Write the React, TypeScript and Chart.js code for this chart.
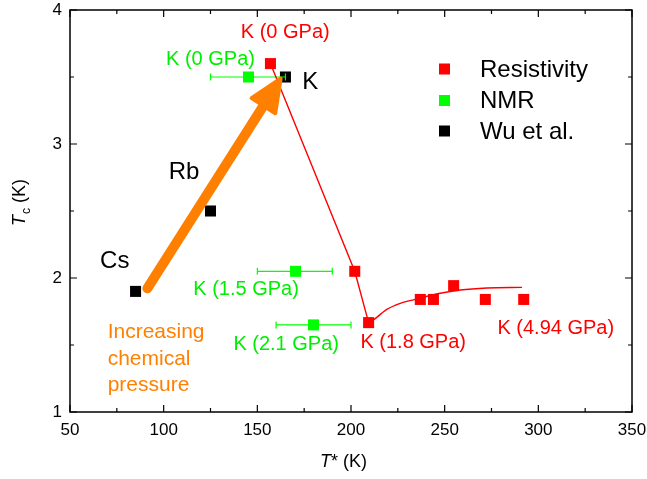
import React, { useEffect, useRef } from "react";
import { Chart, registerables } from "chart.js";

Chart.register(...registerables);

// ---- data ----
const resistivityX = [157, 202, 209.4, 237, 244, 254.8, 271.7, 292.2];
const resistivityY = [3.6, 2.05, 1.667, 1.84, 1.84, 1.943, 1.84, 1.84];

const nmrX = [145.3, 170.4, 180];
const nmrY = [3.5, 2.05, 1.65];
const nmrXLow = [125, 150, 160];
const nmrXHigh = [165, 190, 200];

const wuX = [85, 125, 165];
const wuY = [1.9, 2.5, 3.5];

const dropLineX = [157, 202, 209.4];
const dropLineY = [3.6, 2.05, 1.667];

const fitX = [209.4, 212, 219.1, 226.3, 234.3, 247.6, 258.3, 272.6, 291.3];
const fitY = [1.667, 1.687, 1.766, 1.811, 1.841, 1.886, 1.91, 1.925, 1.93];

const xTicks = [50, 100, 150, 200, 250, 300, 350];
const yTicks = [1, 2, 3, 4];

const arrowTail = [91.3, 1.923];
const arrowTip = [163, 3.5];

const legendLabels = ["Resistivity", "NMR", "Wu et al."];

// annotation texts and their anchors (data units)
const noteTexts = [
  "K (0 GPa)",
  "K (0 GPa)",
  "K",
  "Rb",
  "Cs",
  "K (1.5 GPa)",
  "K (2.1 GPa)",
  "K (1.8 GPa)",
  "K (4.94 GPa)",
];
const noteX = [164.9, 125, 178.2, 110.9, 73.9, 144, 165.4, 233.2, 309.3];
const noteY = [3.83, 3.627, 3.457, 2.786, 2.122, 1.916, 1.507, 1.517, 1.62];
const noteColors = ["#ff0000", "#00ee00", "#000000", "#000000", "#000000", "#00ee00", "#00ee00", "#ff0000", "#ff0000"];
const noteSizes = [20, 20, 24, 24, 24, 20, 20, 20, 20];

const pressureLines = ["Increasing", "chemical", "pressure"];
const pressureAnchor = [70.1, 1.595];

const RED = "#ff0000";
const GREEN = "#00ff00";
const BLACK = "#000000";
const ORANGE = "#ff8000";
const FONT = "'Liberation Sans', Arial, sans-serif";

const pts = (xs: number[], ys: number[]) => xs.map((x, i) => ({ x, y: ys[i] }));

const overlayPlugin = {
  id: "overlay",
  afterDatasetsDraw(chart: any) {
    const ctx: CanvasRenderingContext2D = chart.ctx;
    const xs = chart.scales.x;
    const ys = chart.scales.y;
    const { left, right, top, bottom } = chart.chartArea;
    ctx.save();

    // arrow
    const tx = xs.getPixelForValue(arrowTail[0]);
    const ty = ys.getPixelForValue(arrowTail[1]);
    const hx = xs.getPixelForValue(arrowTip[0]);
    const hy = ys.getPixelForValue(arrowTip[1]);
    const dx = hx - tx, dy = hy - ty;
    const len = Math.hypot(dx, dy);
    const ux = dx / len, uy = dy / len;
    const px = -uy, py = ux;
    const headLen = 34, headHalf = 14;
    const bx = hx - ux * headLen, by = hy - uy * headLen;
    ctx.strokeStyle = ORANGE;
    ctx.fillStyle = ORANGE;
    ctx.lineCap = "round";
    ctx.lineWidth = 10;
    ctx.beginPath();
    ctx.moveTo(tx, ty);
    ctx.lineTo(bx + ux * 4, by + uy * 4);
    ctx.stroke();
    ctx.lineJoin = "round";
    ctx.lineWidth = 4;
    ctx.beginPath();
    ctx.moveTo(hx - ux * 2, hy - uy * 2);
    ctx.lineTo(bx + px * headHalf, by + py * headHalf);
    ctx.lineTo(bx - px * headHalf, by - py * headHalf);
    ctx.closePath();
    ctx.fill();
    ctx.stroke();

    // annotations
    ctx.textAlign = "center";
    ctx.textBaseline = "middle";
    noteTexts.forEach((t, i) => {
      ctx.fillStyle = noteColors[i];
      ctx.font = `${noteSizes[i]}px ${FONT}`;
      ctx.fillText(t, xs.getPixelForValue(noteX[i]), ys.getPixelForValue(noteY[i]));
    });
    ctx.textAlign = "left";
    ctx.fillStyle = ORANGE;
    ctx.font = `21px ${FONT}`;
    const pxl = xs.getPixelForValue(pressureAnchor[0]);
    const pyl = ys.getPixelForValue(pressureAnchor[1]);
    pressureLines.forEach((t, i) => ctx.fillText(t, pxl, pyl + i * 26.7));

    // legend
    const legColors = [RED, GREEN, BLACK];
    const legRowsY = [69, 100.5, 131];
    legendLabels.forEach((t, i) => {
      ctx.fillStyle = legColors[i];
      ctx.fillRect(439, legRowsY[i] - 5.5, 11, 11);
      ctx.fillStyle = BLACK;
      ctx.font = `24px ${FONT}`;
      ctx.textAlign = "left";
      ctx.fillText(t, 480, legRowsY[i] + 1);
    });

    // frame
    ctx.strokeStyle = BLACK;
    ctx.lineWidth = 1.5;
    ctx.lineCap = "butt";
    ctx.lineJoin = "miter";
    ctx.strokeRect(left, top, right - left, bottom - top);

    // inward ticks
    ctx.lineWidth = 1.2;
    ctx.beginPath();
    for (let v = 50; v <= 350; v += 25) {
      const p = xs.getPixelForValue(v);
      const l = v % 50 === 0 ? 7 : 4;
      ctx.moveTo(p, bottom);
      ctx.lineTo(p, bottom - l);
      ctx.moveTo(p, top);
      ctx.lineTo(p, top + l);
    }
    for (let v = 1; v <= 4.001; v += 0.5) {
      const p = ys.getPixelForValue(v);
      const l = Math.abs(v - Math.round(v)) < 0.01 ? 7 : 4;
      ctx.moveTo(left, p);
      ctx.lineTo(left + l, p);
      ctx.moveTo(right, p);
      ctx.lineTo(right - l, p);
    }
    ctx.stroke();

    // axis titles
    ctx.fillStyle = BLACK;
    ctx.textBaseline = "alphabetic";
    ctx.textAlign = "left";
    // x title: T* (K)
    ctx.font = `italic 18px ${FONT}`;
    const wT = ctx.measureText("T").width;
    ctx.font = `18px ${FONT}`;
    const wRest = ctx.measureText("* (K)").width;
    const sx = 343.5 - (wT + wRest) / 2;
    const baseY = 466.5;
    ctx.font = `italic 18px ${FONT}`;
    ctx.fillText("T", sx, baseY);
    ctx.font = `18px ${FONT}`;
    ctx.fillText("* (K)", sx + wT, baseY);

    // y title: Tc (K)
    ctx.save();
    ctx.translate(24.5, 203);
    ctx.rotate(-Math.PI / 2);
    ctx.font = `italic 18px ${FONT}`;
    const yT = ctx.measureText("T").width;
    ctx.font = `12px ${FONT}`;
    const yc = ctx.measureText("c").width;
    ctx.font = `18px ${FONT}`;
    const yk = ctx.measureText(" (K)").width;
    const s = -(yT + yc + yk) / 2;
    ctx.font = `italic 18px ${FONT}`;
    ctx.fillText("T", s, 0);
    ctx.font = `12px ${FONT}`;
    ctx.fillText("c", s + yT + 1, 5);
    ctx.font = `18px ${FONT}`;
    ctx.fillText(" (K)", s + yT + yc + 1, 0);
    ctx.restore();

    ctx.restore();
  },
};

export default function App() {
  const ref = useRef<HTMLCanvasElement | null>(null);
  useEffect(() => {
    if (!ref.current) return;
    const errorSets = nmrX.map((_, i) => ({
      type: "line" as const,
      data: [
        { x: nmrXLow[i], y: nmrY[i] },
        { x: nmrXHigh[i], y: nmrY[i] },
      ],
      borderColor: GREEN,
      backgroundColor: GREEN,
      borderWidth: 1.2,
      pointStyle: "line" as const,
      rotation: 90,
      pointRadius: 3.5,
      pointBorderWidth: 1.2,
      pointBorderColor: GREEN,
      showLine: true,
    }));
    const chart = new Chart(ref.current, {
      type: "scatter",
      data: {
        datasets: [
          {
            type: "line",
            data: pts(dropLineX, dropLineY),
            borderColor: RED,
            borderWidth: 1.4,
            pointRadius: 0,
            showLine: true,
          } as any,
          {
            type: "line",
            data: pts(fitX, fitY),
            borderColor: RED,
            borderWidth: 1.4,
            pointRadius: 0,
            showLine: true,
            cubicInterpolationMode: "monotone",
          } as any,
          ...errorSets,
          {
            label: legendLabels[0],
            data: pts(resistivityX, resistivityY),
            backgroundColor: RED,
            pointStyle: "rect",
            pointRadius: 7.8,
            pointBorderWidth: 0,
          },
          {
            label: legendLabels[1],
            data: pts(nmrX, nmrY),
            backgroundColor: GREEN,
            pointStyle: "rect",
            pointRadius: 7.8,
            pointBorderWidth: 0,
          },
          {
            label: legendLabels[2],
            data: pts(wuX, wuY),
            backgroundColor: BLACK,
            pointStyle: "rect",
            pointRadius: 7.8,
            pointBorderWidth: 0,
          },
        ] as any,
      },
      options: {
        animation: false,
        responsive: true,
        maintainAspectRatio: false,
        layout: { padding: { left: 0, right: 15, top: 10, bottom: 0 } },
        plugins: { legend: { display: false }, tooltip: { enabled: false } },
        scales: {
          x: {
            type: "linear",
            min: 50,
            max: 350,
            grid: { display: false, drawTicks: false },
            border: { display: false },
            afterBuildTicks: (scale: any) => {
              scale.ticks = xTicks.map((v) => ({ value: v }));
            },
            afterFit: (scale: any) => {
              scale.height = 67;
              scale.paddingLeft = 0;
              scale.paddingRight = 0;
              scale.paddingTop = 0;
              scale.paddingBottom = 0;
            },
            ticks: {
              padding: 8,
              color: BLACK,
              maxRotation: 0,
              font: { size: 17, family: FONT },
            },
          },
          y: {
            type: "linear",
            min: 1,
            max: 4,
            grid: { display: false, drawTicks: false },
            border: { display: false },
            afterBuildTicks: (scale: any) => {
              scale.ticks = yTicks.map((v) => ({ value: v }));
            },
            afterFit: (scale: any) => {
              scale.width = 70;
              scale.paddingLeft = 0;
              scale.paddingRight = 0;
              scale.paddingTop = 0;
              scale.paddingBottom = 0;
            },
            ticks: {
              padding: 8,
              color: BLACK,
              font: { size: 17, family: FONT },
            },
          },
        },
      },
      plugins: [overlayPlugin],
    });
    return () => chart.destroy();
  }, []);
  return (
    <div style={{ position: "absolute", left: 0, top: 0, width: 647, height: 479, background: "#fff" }}>
      <canvas ref={ref} />
    </div>
  );
}
